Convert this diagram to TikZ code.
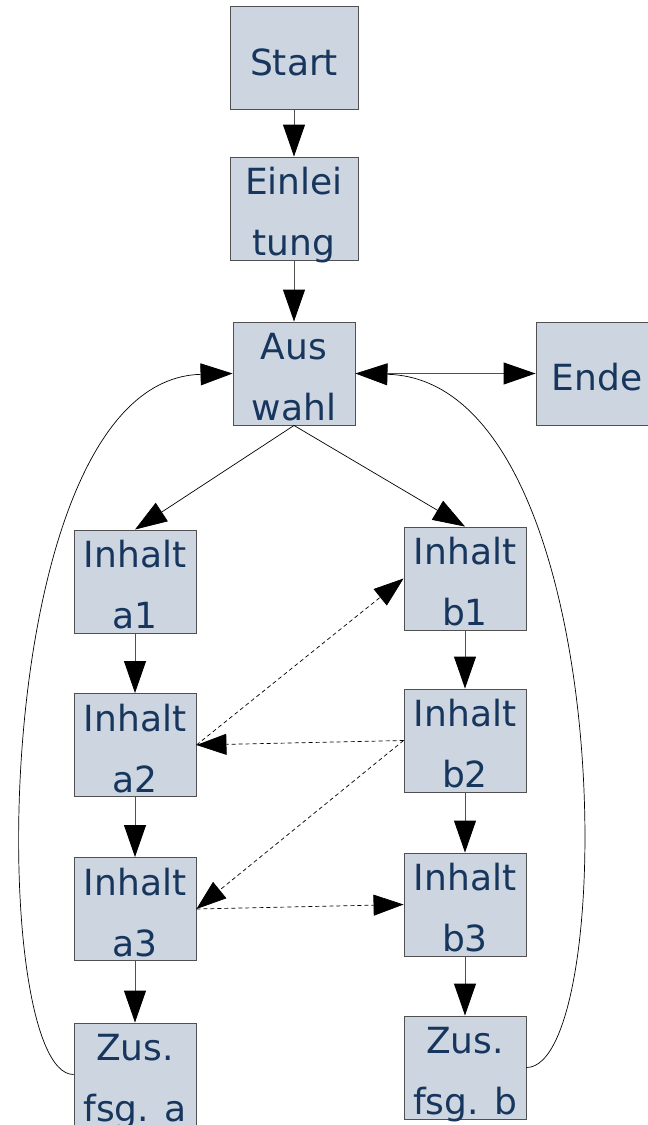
\documentclass[tikz,border=0pt]{standalone}
\usepackage{fontspec}
\setmainfont{DejaVu Sans}
\usepackage{tikz}
\usetikzlibrary{arrows.meta}
\definecolor{BoxFill}{HTML}{CDD5E1}
\definecolor{BoxText}{HTML}{17365D}
\definecolor{BoxLine}{HTML}{505050}
\tikzset{
  blockbox/.style={draw=BoxLine, fill=BoxFill, line width=0.9pt, inner sep=0pt,
    minimum width=122pt, minimum height=103pt, text=BoxText, align=center,
    font=\fontsize{36}{61}\selectfont, text height=97pt, text depth=3pt},
  oneline/.style={text height=34pt, text depth=0pt},
  flowarrow/.style={-{Triangle[length=32pt,width=22pt,color=black]}, draw=BoxLine, line width=0.9pt},
  crossarrow/.style={-{Triangle[length=30pt,width=21pt,color=black]}, dash pattern=on 4pt off 3pt, line width=0.7pt},
  backarrow/.style={-{Triangle[length=32pt,width=22pt]}, line width=0.7pt}
}
\begin{document}
\begin{tikzpicture}[x=1pt,y=-1pt]
        \useasboundingbox (0,0) rectangle (648,1125);
        \node[blockbox, oneline, minimum width=128pt] (start) at (294,58) {Start};
        \node[blockbox, minimum width=128pt] (einl) at (294,208.5) {Einlei\\tung};
        \node[blockbox] (ausw) at (294,373.5) {Aus\\wahl};
        \node[blockbox, oneline] (ende) at (597,373.5) {Ende};
        \node[blockbox] (a1) at (135,581.5) {Inhalt\\a1};
        \node[blockbox] (a2) at (135,745) {Inhalt\\a2};
        \node[blockbox] (a3) at (135,909) {Inhalt\\a3};
        \node[blockbox] (zusa) at (135,1074.5) {Zus.\\fsg. a};
        \node[blockbox] (b1) at (465,578.5) {Inhalt\\b1};
        \node[blockbox] (b2) at (465,740.5) {Inhalt\\b2};
        \node[blockbox] (b3) at (465,904.5) {Inhalt\\b3};
        \node[blockbox] (zusb) at (465,1067.5) {Zus.\\fsg. b};
        % main path
        \draw[flowarrow] (start) -- (einl);
        \draw[flowarrow] (einl) -- (ausw);
        \draw[flowarrow] (ausw) -- (ende);
        \draw[backarrow] (ausw.south) -- (a1.north);
        \draw[backarrow] (ausw.south) -- (b1.north);
        \draw[flowarrow] (a1) -- (a2);
        \draw[flowarrow] (a2) -- (a3);
        \draw[flowarrow] (a3) -- (zusa);
        \draw[flowarrow] (b1) -- (b2);
        \draw[flowarrow] (b2) -- (b3);
        \draw[flowarrow] (b3) -- (zusb);
        % jumps between the two columns
        \draw[crossarrow] (a2.east) -- (b1.west);
        \draw[crossarrow] (b2.west) -- (a2.east);
        \draw[crossarrow] (b2.west) -- (a3.east);
        \draw[crossarrow] (a3.east) -- (b3.west);
        % back to the selection
        \draw[backarrow] (zusa.west) .. controls (-14,1074.5) and (-14,380) .. (ausw.west);
        \draw[backarrow] (zusb.east) .. controls (620,1067.5) and (620,380) .. (ausw.east);
\end{tikzpicture}
\end{document}
